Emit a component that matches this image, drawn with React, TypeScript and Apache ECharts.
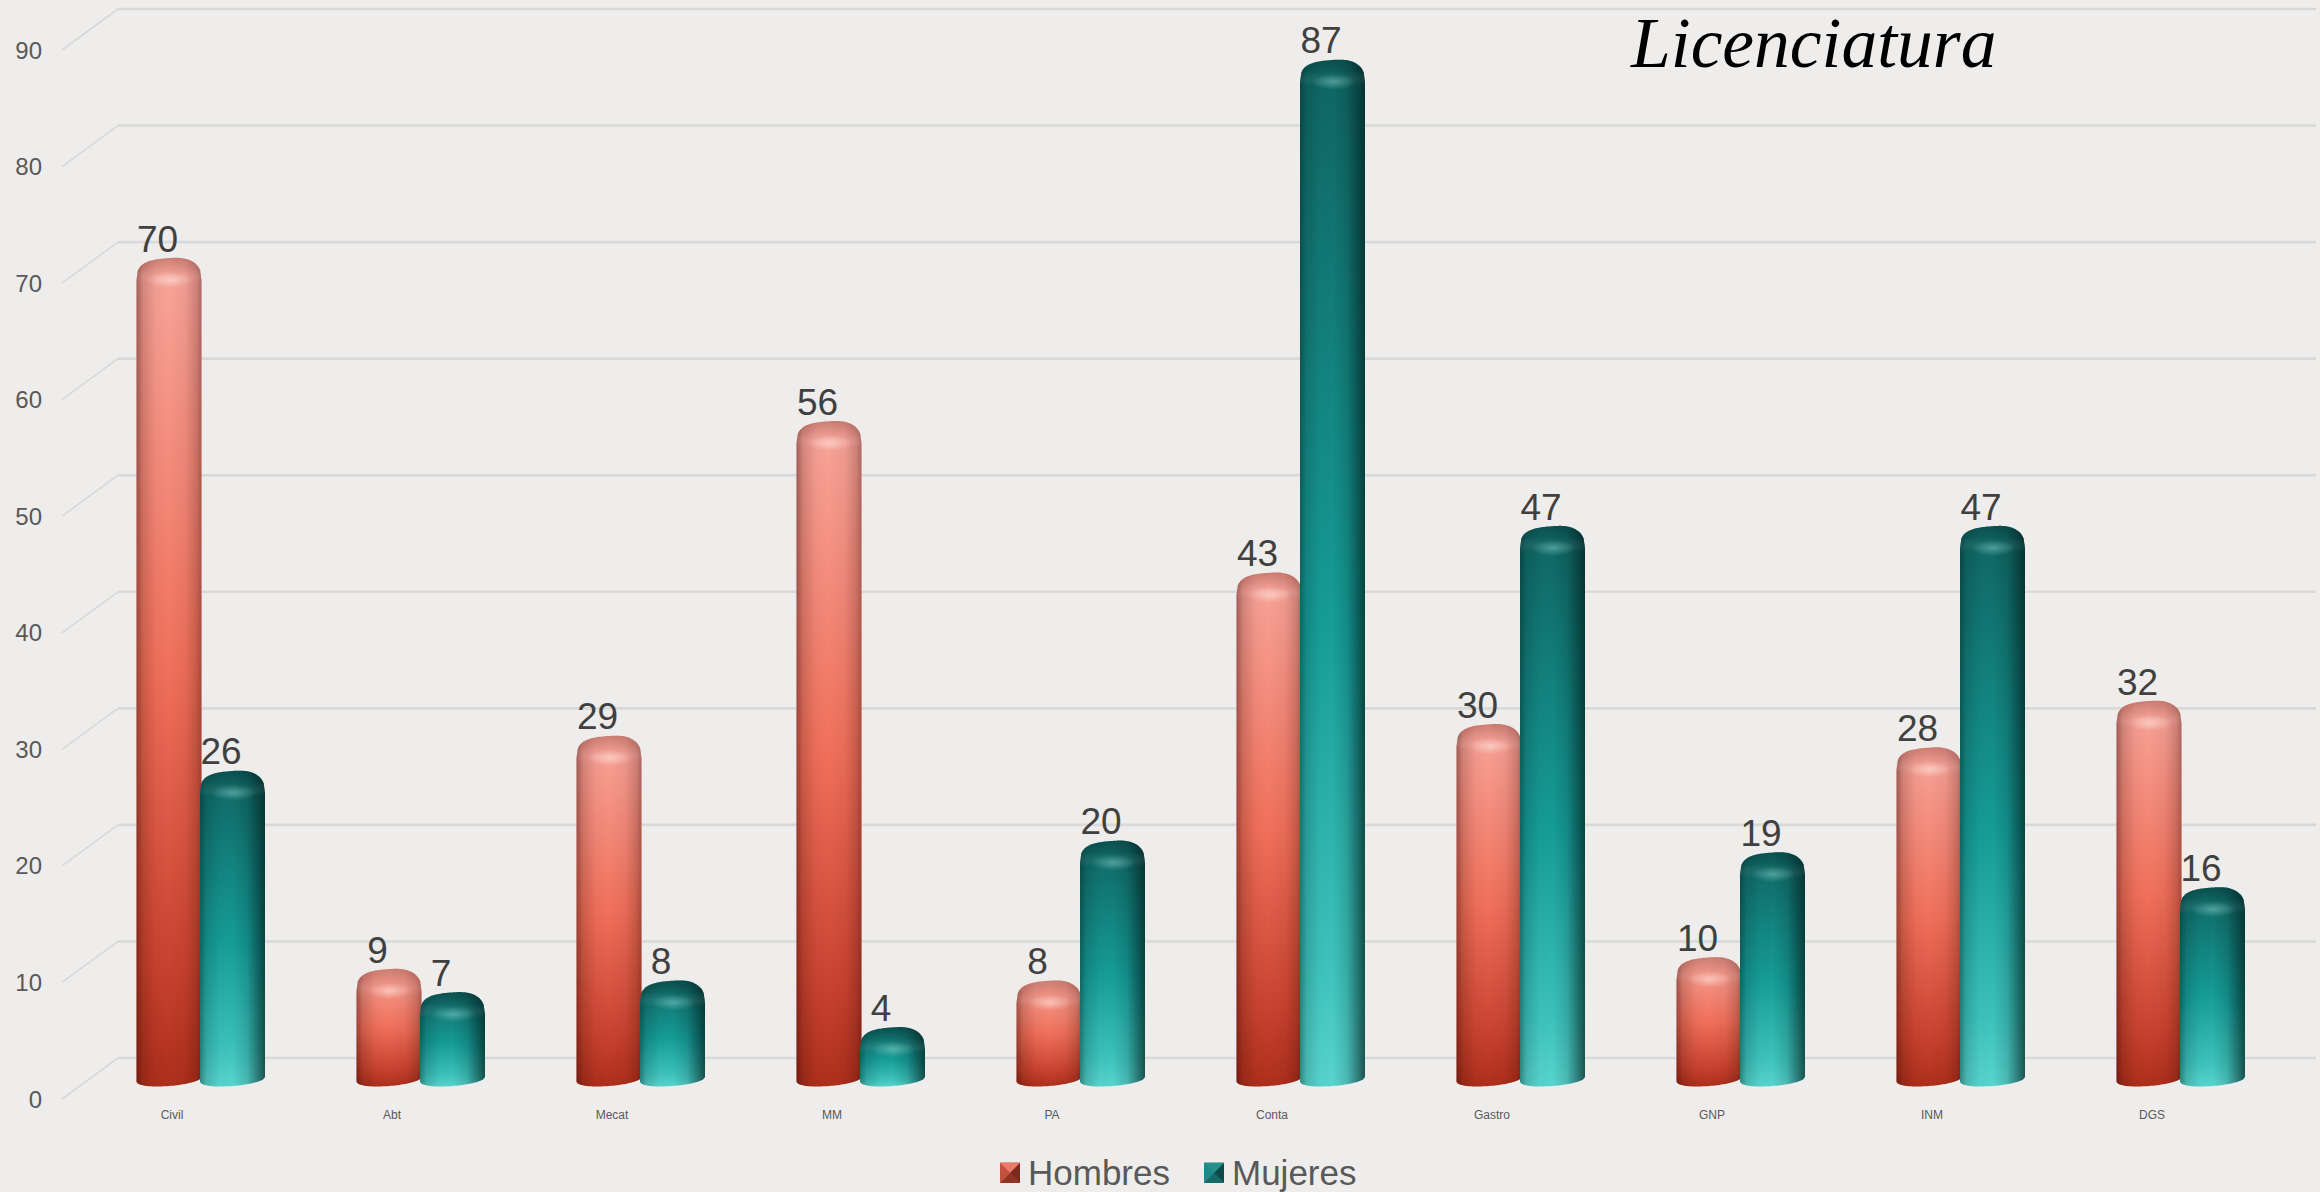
import React, { useEffect, useRef } from "react";
import * as echarts from "echarts";

const categories = ["Civil", "Abt", "Mecat", "MM", "PA", "Conta", "Gastro", "GNP", "INM", "DGS"];
const hombres = [70, 9, 29, 56, 8, 43, 30, 10, 28, 32];
const mujeres = [26, 7, 8, 4, 20, 87, 47, 19, 47, 16];
const yTicks = [0, 10, 20, 30, 40, 50, 60, 70, 80, 90];

const BG = "#EEEDEB";
const SANS = "'Liberation Sans', Arial, sans-serif";

const lin = (x: number, y: number, x2: number, y2: number, stops: [number, string][]) => ({
  type: "linear", x, y, x2, y2, global: false,
  colorStops: stops.map(([offset, color]) => ({ offset, color })),
});
const rad = (stops: [number, string][]) => ({
  type: "radial", x: 0.5, y: 0.5, r: 0.5, global: false,
  colorStops: stops.map(([offset, color]) => ({ offset, color })),
});

const palette = {
  red: {
    body: [[0, "#f8a69b"], [0.5, "#f0705a"], [0.85, "#c9432f"], [1, "#ad2f1b"]] as [number, string][],
    side: [[0, "rgba(40,0,0,0.42)"], [0.1, "rgba(40,0,0,0.18)"], [0.3, "rgba(40,0,0,0.03)"], [0.5, "rgba(40,0,0,0)"], [0.75, "rgba(40,0,0,0.05)"], [0.92, "rgba(40,0,0,0.2)"], [1, "rgba(40,0,0,0.36)"]] as [number, string][],
    capDark: "rgba(90,20,10,0.28)",
    glow: "rgba(255,240,235,0.48)",
  },
  teal: {
    body: [[0, "#0f6462"], [0.55, "#169d97"], [0.88, "#3dc2bb"], [1, "#58d4ce"]] as [number, string][],
    side: [[0, "rgba(0,25,25,0.42)"], [0.1, "rgba(0,25,25,0.16)"], [0.3, "rgba(0,25,25,0.02)"], [0.5, "rgba(0,25,25,0)"], [0.72, "rgba(0,25,25,0.14)"], [0.9, "rgba(0,25,25,0.48)"], [1, "rgba(0,25,25,0.68)"]] as [number, string][],
    capDark: "rgba(0,30,30,0.3)",
    glow: "rgba(170,240,235,0.36)",
  },
};

const BAR_W = 65;
const SHOULDER = 22;
const DOME = 2.7;

function silhouette(cx: number, w: number, top: number, base: number) {
  const h = w / 2;
  const pts: number[][] = [];
  for (let i = 0; i <= 48; i++) {
    const u = -1 + i / 24;
    const a = Math.abs(u);
    const tilt = -1.2 * Math.sin(u * Math.PI);
    pts.push([cx + u * h, top + SHOULDER * (1 - Math.pow(1 - Math.pow(a, DOME), 1 / DOME)) + (a < 1 ? tilt * 0.6 : 0)]);
  }
  for (let i = 0; i <= 32; i++) {
    const u = 1 - i / 16;
    pts.push([cx + u * h, base - 6.5 - 2.5 * u + 6.5 * Math.sqrt(Math.max(0, 1 - u * u))]);
  }
  return pts;
}

function capShape(cx: number, w: number, top: number) {
  const h = w / 2;
  const pts: number[][] = [];
  for (let i = 0; i <= 48; i++) {
    const u = -1 + i / 24;
    const a = Math.abs(u);
    pts.push([cx + u * h, top + SHOULDER * (1 - Math.pow(1 - Math.pow(a, DOME), 1 / DOME)) - 1.2 * Math.sin(u * Math.PI) * 0.6 * (a < 1 ? 1 : 0)]);
  }
  for (let i = 0; i <= 24; i++) {
    const u = 1 - i / 12;
    pts.push([cx + u * h, top + SHOULDER + 4]);
  }
  return pts;
}

function cylinder(kind: "red" | "teal", offset: number) {
  const p = palette[kind];
  return (_params: any, api: any) => {
    const cat = api.value(0);
    const v = api.value(1);
    const [x, y] = api.coord([cat, v]);
    const y0 = api.coord([cat, 0])[1];
    const cx = x + offset;
    const top = y - 25;
    const base = y0 - 13;
    return {
      type: "group",
      children: [
        { type: "polygon", shape: { points: silhouette(cx, BAR_W, top, base) }, style: { fill: lin(0, 0, 0, 1, p.body) } },
        { type: "polygon", shape: { points: silhouette(cx, BAR_W, top, base) }, style: { fill: lin(0, 0, 1, 0, p.side) } },
        {
          type: "polygon",
          shape: { points: capShape(cx, BAR_W, top) },
          style: { fill: lin(0, 0, 0, 1, [[0, p.capDark], [0.45, p.capDark.replace(/[\d.]+\)$/, "0.1)")], [0.8, "rgba(255,255,255,0.05)"], [1, "rgba(255,255,255,0)"]]) },
        },
        {
          type: "ellipse",
          shape: { cx: cx + 1, cy: top + 22, rx: 22, ry: 8 },
          style: { fill: rad([[0, p.glow], [1, p.glow.replace(/[\d.]+\)$/, "0)")]]) },
        },
        {
          type: "text",
          z2: 50,
          x: cx - 11.5,
          y: top - 19,
          style: { text: String(v), fontSize: 37, fontFamily: SANS, fill: "#404040", align: "center", verticalAlign: "middle" },
        },
      ],
    };
  };
}

function gridRender(params: any, api: any) {
  const y = api.coord([0, api.value(1)])[1];
  const left = params.coordSys.x;
  return {
    type: "group",
    children: [
      { type: "line", shape: { x1: left, y1: y, x2: left + 56, y2: y - 41 }, style: { stroke: "#d9d9d9", lineWidth: 1.6 } },
      { type: "line", shape: { x1: left + 56, y1: y - 41, x2: left + 2254, y2: y - 41 }, style: { stroke: "#d9d9d9", lineWidth: 2.6 } },
    ],
  };
}

function bevel(x: number, y: number, s: number, cols: string[]) {
  const cxy = [x + s / 2, y + s / 2];
  const tl = [x, y], tr = [x + s, y], br = [x + s, y + s], bl = [x, y + s];
  const tris = [[tl, tr, cxy], [tr, br, cxy], [br, bl, cxy], [bl, tl, cxy]];
  return tris.map((points, i) => ({
    type: "polygon", z: 20, shape: { points }, style: { fill: cols[i] },
  }));
}

export default function App() {
  const ref = useRef<HTMLDivElement>(null);
  useEffect(() => {
    document.body.style.margin = "0";
    const chart = echarts.init(ref.current!, undefined, { renderer: "svg" });
    chart.setOption({
      animation: false,
      backgroundColor: BG,
      title: {
        text: "Licenciatura",
        left: 1631,
        top: 6,
        padding: 0,
        textStyle: { fontFamily: "'Liberation Serif', serif", fontStyle: "italic", fontWeight: "normal", fontSize: 71.5, color: "#000000" },
      },
      legend: {
        left: 1000,
        top: 1155,
        padding: 0,
        itemWidth: 20,
        itemHeight: 20,
        itemGap: 34,
        selectedMode: false,
        data: [
          { name: "Hombres", icon: "rect", itemStyle: { color: "#c9503f" } },
          { name: "Mujeres", icon: "rect", itemStyle: { color: "#148884" } },
        ],
        textStyle: { fontFamily: SANS, fontSize: 35, color: "#595959", padding: [0, 0, 0, 3] },
      },
      grid: { left: 62, top: 50, width: 2200, height: 1049, containLabel: false },
      xAxis: {
        type: "category",
        data: categories,
        axisLine: { show: false },
        axisTick: { show: false },
        axisLabel: { fontFamily: SANS, fontSize: 12, color: "#595959", margin: 10 },
      },
      yAxis: {
        type: "value",
        min: 0,
        max: 90,
        interval: 10,
        axisLine: { show: false },
        axisTick: { show: false },
        splitLine: { show: false },
        axisLabel: { fontFamily: SANS, fontSize: 24, color: "#595959", margin: 20 },
      },
      graphic: [
        ...bevel(1000, 1163, 20, ["#e87a6a", "#7c2a1e", "#8f3325", "#c4503e"]),
        ...bevel(1204, 1163, 20, ["#2a8f8c", "#0b4c4a", "#146a68", "#1c8a86"]),
      ],
      series: [
        {
          type: "custom", name: "grid", silent: true, z: 1, legendHoverLink: false,
          data: yTicks.map((v) => [0, v]), encode: { x: 0, y: 1 }, renderItem: gridRender,
        },
        {
          type: "custom", name: "Hombres", z: 2, clip: false,
          data: hombres.map((v, i) => [i, v]), encode: { x: 0, y: 1 }, renderItem: cylinder("red", -3),
        },
        {
          type: "custom", name: "Mujeres", z: 3, clip: false,
          data: mujeres.map((v, i) => [i, v]), encode: { x: 0, y: 1 }, renderItem: cylinder("teal", 60.5),
        },
      ],
    });
    return () => chart.dispose();
  }, []);
  return <div ref={ref} style={{ position: "absolute", left: 0, top: 0, width: 2320, height: 1192 }} />;
}
